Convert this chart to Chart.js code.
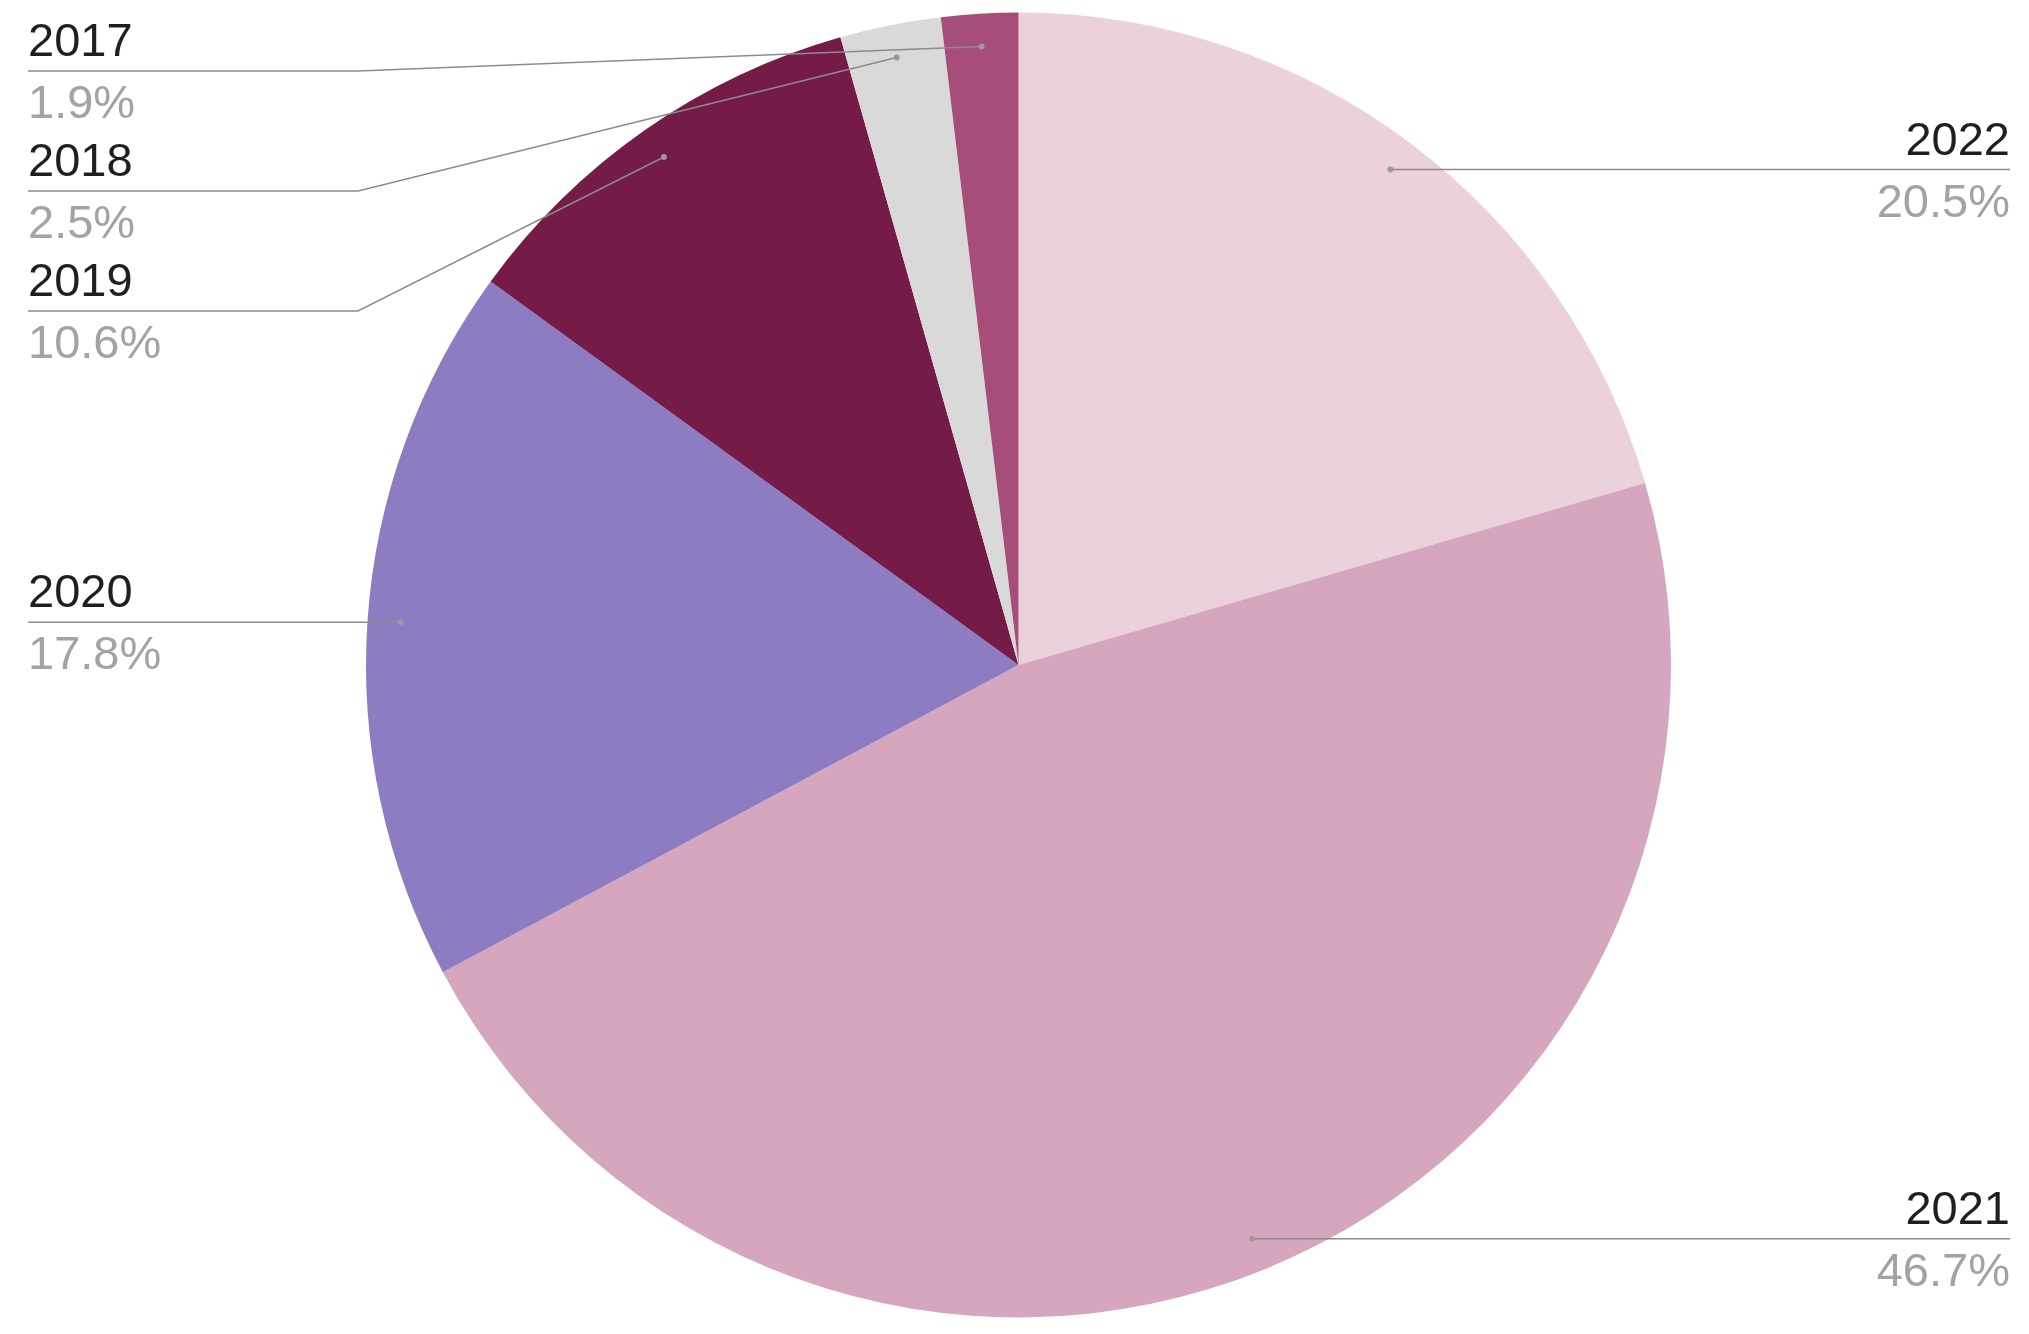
<!DOCTYPE html>
<html>
<head>
<meta charset="utf-8">
<script src="https://cdn.jsdelivr.net/npm/chart.js@4"></script>
<style>
  html, body { margin: 0; padding: 0; background: #ffffff; }
  #wrap { width: 2029px; height: 1334px; }
</style>
</head>
<body>
<div id="wrap"><canvas id="pieChart" width="2029" height="1334"></canvas></div>
<script>
// 데이터 (시계 방향, 12시부터)
const years = ['2022', '2021', '2020', '2019', '2018', '2017'];
const shares = [20.5, 46.7, 17.8, 10.6, 2.5, 1.9];
const sliceColors = ['#ead1dc', '#d5a6bd', '#8e7cc3', '#741b47', '#d9d9d9', '#a64d79'];

const FONT = '47px "Liberation Sans", Arial, sans-serif';

// 옆쪽 라벨 + 지시선
const sideLabels = {
    id: 'sideLabels',
    afterDatasetsDraw(chart) {
        const ctx = chart.ctx;
        const meta = chart.getDatasetMeta(0);
        const total = shares.reduce((a, b) => a + b, 0);
        const W = chart.width;

        const items = meta.data.map((arc, i) => {
            const mid = (arc.startAngle + arc.endAngle) / 2;
            const r = arc.outerRadius - 33;
            return {
                i,
                ax: arc.x + Math.cos(mid) * r,
                ay: arc.y + Math.sin(mid) * r,
                left: Math.cos(mid) < 0
            };
        });

        ['left', 'right'].forEach(side => {
            const list = items.filter(it => (side === 'left') === it.left).sort((a, b) => a.ay - b.ay);
            let prev = 71 - 120;
            list.forEach(it => {
                it.ly = Math.max(it.ay, prev + 120);
                prev = it.ly;
            });
        });

        ctx.save();
        items.forEach(it => {
            const textX = it.left ? 28 : W - 19;
            const endX = it.left ? 28 : W - 19;
            const elbowX = it.left ? 358 : W - 358;

            ctx.strokeStyle = '#8c8c8c';
            ctx.lineWidth = 1.5;
            ctx.beginPath();
            ctx.moveTo(endX, it.ly);
            ctx.lineTo(elbowX, it.ly);
            ctx.lineTo(it.ax, it.ay);
            ctx.stroke();

            ctx.fillStyle = '#9a9a9a';
            ctx.beginPath();
            ctx.arc(it.ax, it.ay, 3, 0, Math.PI * 2);
            ctx.fill();

            ctx.font = FONT;
            ctx.textAlign = it.left ? 'left' : 'right';
            ctx.textBaseline = 'alphabetic';
            ctx.fillStyle = '#1f1f1f';
            ctx.fillText(years[it.i], textX, it.ly - 15);
            ctx.fillStyle = '#a3a3a3';
            ctx.fillText((shares[it.i] / total * 100).toFixed(1) + '%', textX, it.ly + 47);
        });
        ctx.restore();
    }
};

const ctx = document.getElementById('pieChart').getContext('2d');
new Chart(ctx, {
    type: 'pie',
    data: {
        labels: years,
        datasets: [{
            data: shares,
            backgroundColor: sliceColors,
            borderWidth: 0
        }]
    },
    options: {
        responsive: false,
        animation: false,
        layout: { padding: { top: 12, bottom: 16, left: 366, right: 358 } },
        plugins: {
            legend: { display: false },
            tooltip: { enabled: false }
        }
    },
    plugins: [sideLabels]
});
</script>
</body>
</html>
